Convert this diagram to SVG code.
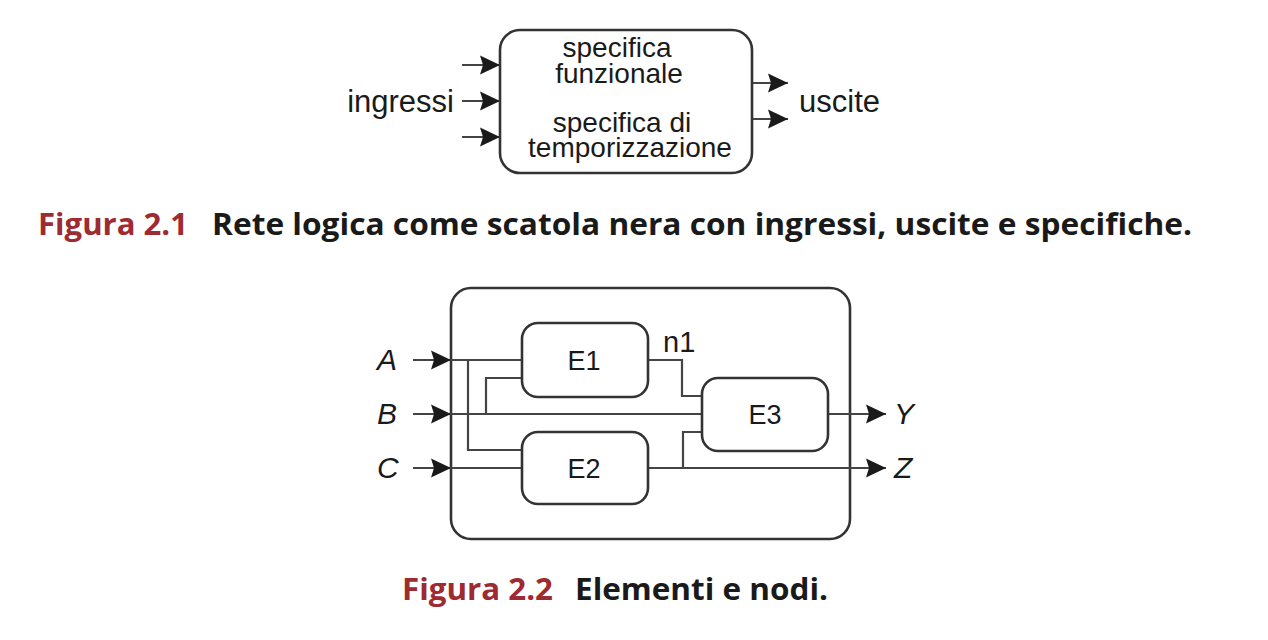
<svg xmlns="http://www.w3.org/2000/svg" width="1268" height="640" viewBox="0 0 1268 640">
<style>
.box{fill:#fff;stroke:#333;stroke-width:2.6}
.w{fill:none;stroke:#444;stroke-width:2.2}
.t{font-family:"Liberation Sans",Arial,sans-serif;fill:#1a1a1a}
.it{font-family:"Liberation Sans",Arial,sans-serif;font-style:italic;fill:#1a1a1a}
.cap{font-family:"Open Sans","Noto Sans",sans-serif;font-weight:bold;font-size:30px}
.red{fill:#9e2a32}
.blk{fill:#1a1a1a}
</style>
<defs>
<marker id="ah" viewBox="0 0 20 20" refX="20" refY="10" markerWidth="20" markerHeight="20" markerUnits="userSpaceOnUse" orient="auto">
<path d="M0,0.5 L20,10 L0,19.5 L3,10 Z" fill="#1a1a1a"/>
</marker>
</defs>
<rect width="1268" height="640" fill="#fff"/>

<!-- Figure 2.1 -->
<g id="connectors1">
<line class="w" x1="462" y1="65" x2="500" y2="65" marker-end="url(#ah)"/>
<line class="w" x1="462" y1="101" x2="500" y2="101" marker-end="url(#ah)"/>
<line class="w" x1="462" y1="137" x2="500" y2="137" marker-end="url(#ah)"/>
<line class="w" x1="752" y1="83" x2="788" y2="83" marker-end="url(#ah)"/>
<line class="w" x1="752" y1="119" x2="788" y2="119" marker-end="url(#ah)"/>
</g>
<g id="blackbox">
<rect class="box" x="500" y="30" width="252" height="143" rx="20"/>
<text class="t" font-size="28" text-anchor="middle" x="617" y="57">specifica</text>
<text class="t" font-size="28" text-anchor="middle" x="619" y="83">funzionale</text>
<text class="t" font-size="28" text-anchor="middle" x="622" y="132">specifica di</text>
<text class="t" font-size="28" text-anchor="middle" x="630" y="157">temporizzazione</text>
</g>
<g id="label-ingressi"><text class="t" font-size="31" text-anchor="end" x="454" y="112">ingressi</text></g>
<g id="label-uscite"><text class="t" font-size="31" x="799" y="112">uscite</text></g>
<text class="cap" y="235"><tspan class="red" x="38" textLength="150" lengthAdjust="spacingAndGlyphs">Figura 2.1</tspan><tspan class="blk" x="212" textLength="980" lengthAdjust="spacingAndGlyphs">Rete logica come scatola nera con ingressi, uscite e specifiche.</tspan></text>

<!-- Figure 2.2 -->
<g id="outer">
<rect class="box" x="451" y="288" width="399" height="251" rx="20"/>
</g>
<g id="connectors2">
<line class="w" x1="413" y1="360" x2="451" y2="360" marker-end="url(#ah)"/>
<line class="w" x1="413" y1="414" x2="451" y2="414" marker-end="url(#ah)"/>
<line class="w" x1="413" y1="468" x2="451" y2="468" marker-end="url(#ah)"/>
<polyline class="w" points="450,360 522,360"/>
<polyline class="w" points="468,360 468,450 522,450"/>
<polyline class="w" points="450,414 702,414"/>
<polyline class="w" points="486,414 486,378 522,378"/>
<polyline class="w" points="450,468 522,468"/>
<polyline class="w" points="648,360 682,360 682,396 702,396"/>
<polyline class="w" points="683,468 683,432 702,432"/>
<line class="w" x1="648" y1="468" x2="886" y2="468" marker-end="url(#ah)"/>
<line class="w" x1="828" y1="414" x2="886" y2="414" marker-end="url(#ah)"/>
</g>
<g id="E1">
<rect class="box" x="522" y="323" width="126" height="74" rx="16"/>
<text class="t" font-size="27" text-anchor="middle" x="584" y="370">E1</text>
</g>
<g id="E2">
<rect class="box" x="522" y="432" width="126" height="72" rx="16"/>
<text class="t" font-size="27" text-anchor="middle" x="584" y="478">E2</text>
</g>
<g id="E3">
<rect class="box" x="702" y="378" width="126" height="73" rx="16"/>
<text class="t" font-size="27" text-anchor="middle" x="765" y="424">E3</text>
</g>
<g id="label-n1"><text class="t" font-size="29" x="663" y="352">n1</text></g>
<g id="label-A"><text class="it" font-size="30" x="377" y="370">A</text></g>
<g id="label-B"><text class="it" font-size="30" x="377" y="424">B</text></g>
<g id="label-C"><text class="it" font-size="30" x="377" y="478">C</text></g>
<g id="label-Y"><text class="it" font-size="30" x="894" y="424">Y</text></g>
<g id="label-Z"><text class="it" font-size="30" x="894" y="478">Z</text></g>
<text class="cap" y="600"><tspan class="red" x="402" textLength="151" lengthAdjust="spacingAndGlyphs">Figura 2.2</tspan><tspan class="blk" x="575" textLength="253" lengthAdjust="spacingAndGlyphs">Elementi e nodi.</tspan></text>
</svg>
